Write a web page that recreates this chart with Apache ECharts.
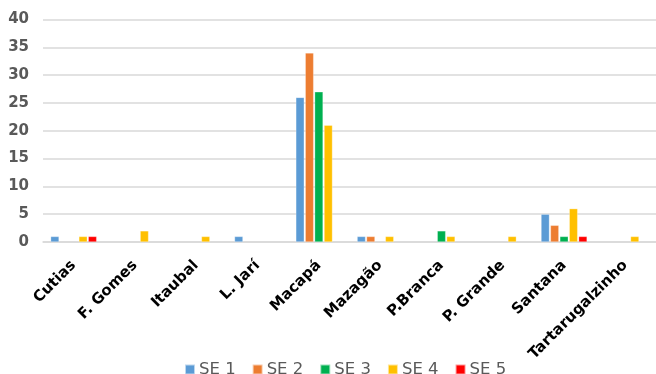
<!DOCTYPE html>
<html><head><meta charset="utf-8">
<script src="https://cdn.jsdelivr.net/npm/echarts@6/dist/echarts.min.js"></script>
<style>html,body{margin:0;padding:0;background:#fff}#c{width:656px;height:374px}</style>
</head><body><div id="c"></div>
<script>
const categories = ['Cutias','F. Gomes','Itaubal','L. Jarí','Macapá','Mazagão','P.Branca','P. Grande','Santana','Tartarugalzinho'];
const seriesNames = ['SE 1','SE 2','SE 3','SE 4','SE 5'];
const se1 = [1,0,0,1,26,1,0,0,5,0];
const se2 = [0,0,0,0,34,1,0,0,3,0];
const se3 = [0,0,0,0,27,0,2,0,1,0];
const se4 = [1,2,1,0,21,1,1,1,6,1];
const se5 = [1,0,0,0,0,0,0,0,1,0];
const yTicks = [0,5,10,15,20,25,30,35,40];
const colors = ['#5B9BD5','#ED7D31','#00B050','#FFC000','#FF0000'];
const allData = [se1,se2,se3,se4,se5];

const chart = echarts.init(document.getElementById('c'));
chart.setOption({
  animation:false,
  color: colors,
  grid:{left:43, top:19.5, width:615, height:222.5, containLabel:false},
  legend:{
    data: seriesNames, bottom:-9, left:179, itemWidth:10, itemHeight:10, itemGap:16,
    icon:'rect',
    textStyle:{fontFamily:'DejaVu Sans', fontSize:16.5, color:'#595959', padding:[0,0,0,-1]}
  },
  xAxis:{
    type:'category', data:categories,
    axisLine:{lineStyle:{color:'#D9D9D9', width:1.5}},
    axisTick:{show:false},
    axisLabel:{interval:0, rotate:45, margin:21, fontFamily:'DejaVu Sans', fontWeight:'bold', fontSize:15, color:'#000'}
  },
  yAxis:{
    type:'value', min:yTicks[0], max:yTicks[yTicks.length-1], interval:5,
    axisLine:{show:false}, axisTick:{show:false},
    splitLine:{lineStyle:{color:'#D9D9D9', width:1.5}},
    axisLabel:{margin:14, fontFamily:'DejaVu Sans', fontWeight:'bold', fontSize:15, color:'#595959'}
  },
  series: seriesNames.map((n,i)=>({
    name:n, type:'bar', data: allData[i].map(v=> v===0 ? null : v),
    barWidth:8.4, barGap:'12%',
    itemStyle:{borderColor:'rgba(255,255,255,0.6)', borderWidth:0.5}
  }))
});
</script></body></html>
